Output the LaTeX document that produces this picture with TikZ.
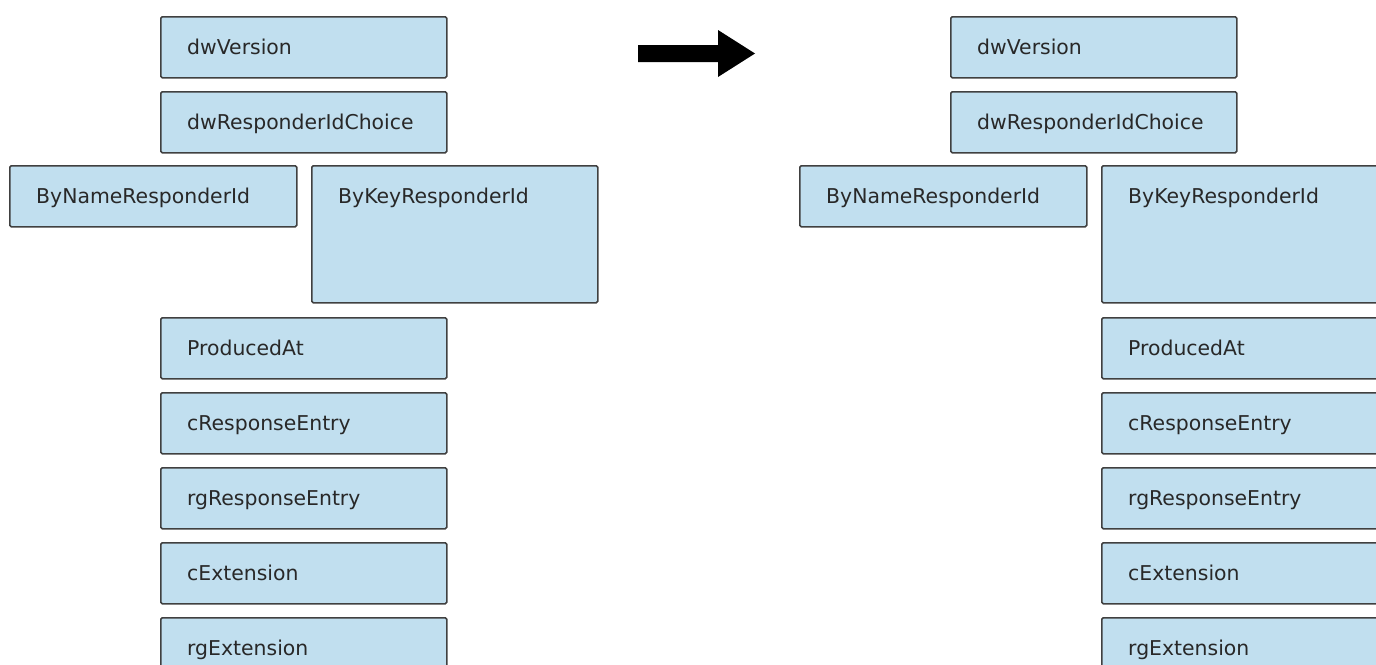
\documentclass[tikz,border=0pt]{standalone}
\usepackage{fontspec}
\setmainfont{DejaVu Sans}
\definecolor{boxfill}{RGB}{193,223,239}
\definecolor{boxline}{RGB}{64,64,64}
\definecolor{txt}{RGB}{40,40,40}
\newcommand\mkbox[6]{%
  \node[box, minimum width=#4pt, minimum height=#5pt] (#1) at (#2,#3) {};
  \node[lbl] (#1t) at ([xshift=27pt,yshift=-38pt]#1.north west) {#6};}
\begin{document}
\begin{tikzpicture}[x=1pt,y=-1pt,
  box/.style={draw=boxline, fill=boxfill, line width=1.5pt, rounded corners=1.5pt, anchor=north west, inner sep=0pt},
  lbl/.style={anchor=base west, inner sep=0pt, font=\fontsize{20.4}{24}\selectfont, text=txt}]
\useasboundingbox (0,0) rectangle (1376,664);
\clip (0,0) rectangle (1376,664);
% left column
\mkbox{lv}{160}{16}{286}{61}{dwVersion}
\mkbox{lc}{160}{91}{286}{61}{dwResponderIdChoice}
\mkbox{ln}{9}{165}{287}{61}{ByNameResponderId}
\mkbox{lk}{311}{165}{286}{137}{ByKeyResponderId}
\mkbox{lp}{160}{317}{286}{61}{ProducedAt}
\mkbox{lce}{160}{392}{286}{61}{cResponseEntry}
\mkbox{lre}{160}{467}{286}{61}{rgResponseEntry}
\mkbox{lcx}{160}{542}{286}{61}{cExtension}
\mkbox{lrx}{160}{617}{286}{61}{rgExtension}
% right column
\mkbox{rv}{950}{16}{286}{61}{dwVersion}
\mkbox{rc}{950}{91}{286}{61}{dwResponderIdChoice}
\mkbox{rn}{799}{165}{287}{61}{ByNameResponderId}
\mkbox{rk}{1101}{165}{286}{137}{ByKeyResponderId}
\mkbox{rp}{1101}{317}{286}{61}{ProducedAt}
\mkbox{rce}{1101}{392}{286}{61}{cResponseEntry}
\mkbox{rre}{1101}{467}{286}{61}{rgResponseEntry}
\mkbox{rcx}{1101}{542}{286}{61}{cExtension}
\mkbox{rrx}{1101}{617}{286}{61}{rgExtension}
% big arrow
\fill[black] (638,45) -- (718,45) -- (718,30) -- (755,53.5) -- (718,77) -- (718,62) -- (638,62) -- cycle;
\end{tikzpicture}
\end{document}
